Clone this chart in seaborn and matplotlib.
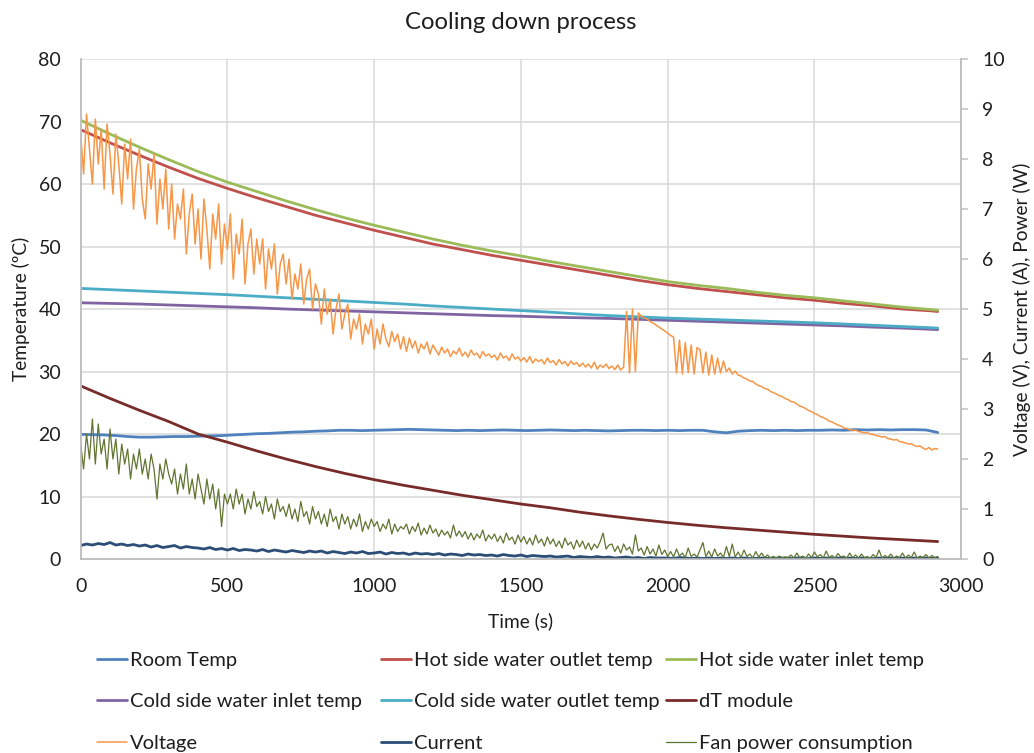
import numpy as np
import matplotlib
matplotlib.use("Agg")
import matplotlib.pyplot as plt
import seaborn as sns

# ---------------------------------------------------------------------------
# Measured data
# ---------------------------------------------------------------------------
# Temperatures logged every 100 s (last sample at 2920 s)
temp_time = [0, 100, 200, 300, 400, 500, 600, 700, 800, 900, 1000, 1100, 1200,
             1300, 1400, 1500, 1600, 1700, 1800, 1900, 2000, 2100, 2200, 2300,
             2400, 2500, 2600, 2700, 2800, 2900, 2920]

hot_outlet = [68.7, 66.6, 64.6, 62.7, 60.9, 59.3, 57.8, 56.4, 55.0, 53.8, 52.6,
              51.5, 50.4, 49.5, 48.6, 47.8, 47.0, 46.2, 45.4, 44.6, 43.9, 43.3,
              42.8, 42.3, 41.8, 41.4, 40.9, 40.5, 40.0, 39.7, 39.6]

hot_inlet = [70.2, 68.0, 65.9, 63.9, 62.0, 60.3, 58.8, 57.3, 55.9, 54.6, 53.4,
             52.3, 51.2, 50.2, 49.3, 48.5, 47.6, 46.8, 46.0, 45.2, 44.4, 43.8,
             43.3, 42.7, 42.2, 41.8, 41.3, 40.8, 40.3, 39.9, 39.8]

cold_inlet = [41.0, 40.9, 40.8, 40.65, 40.5, 40.35, 40.2, 40.0, 39.85, 39.7,
              39.55, 39.4, 39.25, 39.1, 38.95, 38.85, 38.7, 38.6, 38.5, 38.35,
              38.2, 38.05, 37.9, 37.75, 37.6, 37.45, 37.3, 37.1, 36.95, 36.75,
              36.7]

cold_outlet = [43.3, 43.1, 42.9, 42.7, 42.5, 42.3, 42.05, 41.8, 41.55, 41.3,
               41.05, 40.8, 40.5, 40.25, 40.0, 39.75, 39.5, 39.2, 38.95, 38.75,
               38.55, 38.4, 38.25, 38.1, 37.95, 37.8, 37.6, 37.4, 37.2, 37.0,
               36.95]

dt_module = [27.7, 25.7, 23.8, 22.0, 20.0, 18.7, 17.3, 16.0, 14.8, 13.7, 12.7,
             11.8, 11.0, 10.2, 9.5, 8.8, 8.2, 7.5, 6.9, 6.35, 5.85, 5.4, 5.0,
             4.65, 4.3, 3.95, 3.65, 3.35, 3.1, 2.85, 2.8]

# Room temperature, one sample every 40 s
room_step = 40
room_temp = [19.95, 19.9, 19.85, 19.75, 19.6, 19.5, 19.5, 19.55, 19.6, 19.6,
             19.65, 19.7, 19.75, 19.85, 19.95, 20.05, 20.1, 20.2, 20.3, 20.35,
             20.45, 20.5, 20.6, 20.6, 20.55, 20.6, 20.65, 20.7, 20.75, 20.7,
             20.65, 20.6, 20.55, 20.6, 20.55, 20.6, 20.65, 20.6, 20.55, 20.6,
             20.65, 20.6, 20.55, 20.6, 20.55, 20.5, 20.55, 20.6, 20.6, 20.55,
             20.6, 20.55, 20.6, 20.6, 20.35, 20.2, 20.45, 20.55, 20.6, 20.55,
             20.6, 20.55, 20.6, 20.6, 20.65, 20.6, 20.7, 20.65, 20.7, 20.65,
             20.7, 20.7, 20.65, 20.25]

# Module voltage, one sample every 10 s
volt_step = 10
voltage = [
    8.5, 7.7, 8.9, 8.2, 7.5, 8.8, 7.9, 8.6, 7.4, 8.7, 8.1,
    7.3, 8.5, 7.9, 7.1, 8.3, 7.6, 8.4, 7.0, 7.8, 8.2,
    7.2, 6.8, 7.9, 7.4, 8.1, 6.7, 7.6, 7.0, 7.8, 6.6,
    7.5, 6.4, 7.1, 6.8, 7.4, 6.1, 6.9, 7.3, 6.3, 7.0,
    6.0, 7.2, 6.6, 5.8, 6.9, 6.4, 7.1, 5.9, 6.7, 6.2,
    6.9, 5.6, 6.5, 6.1, 6.8, 5.5, 6.3, 6.6, 5.7, 6.4,
    5.9, 6.4, 5.4, 6.2, 5.8, 6.3, 5.3, 5.9, 6.1, 5.5,
    6.0, 5.2, 5.7, 5.4, 5.9, 5.1, 5.6, 5.8, 5.0, 5.5,
    5.3, 4.7, 5.4, 4.9, 5.2, 4.5, 5.0, 5.3, 4.6, 4.9,
    5.1, 4.4, 4.8, 4.6, 4.9, 4.3, 4.7, 4.5, 4.8, 4.2,
    4.6, 4.3, 4.7, 4.4, 4.25, 4.55, 4.35, 4.5, 4.2, 4.45,
    4.15, 4.42, 4.22, 4.36, 4.12, 4.3, 4.2, 4.34, 4.1, 4.28,
    4.18, 4.08, 4.24, 4.12, 4.2, 4.05, 4.16, 4.1, 4.22, 4.06,
    4.14, 4.04, 4.18, 4.08, 4.12, 4.02, 4.15, 4.06, 4.1, 4.03,
    4.08, 3.98, 4.12, 4.02, 4.06, 3.97, 4.1, 4.0, 4.04, 3.96,
    4.03, 3.94, 4.05, 3.92, 4.0, 3.95, 3.99, 3.9, 4.02, 3.93,
    3.97, 3.88, 3.99, 3.9, 3.95, 3.86, 3.96, 3.89, 3.93, 3.85,
    3.92, 3.84, 3.9, 3.82, 3.94, 3.8, 3.88, 3.83, 3.9, 3.81,
    3.86, 3.79, 3.88, 3.78, 3.84,
    4.95, 3.72, 5.0, 3.75, 4.92,
    4.86, 4.82, 4.8, 4.75, 4.72, 4.68, 4.64, 4.6, 4.56, 4.52,
    4.47, 4.44, 3.72, 4.38, 3.7, 4.33, 3.73, 4.28, 3.7, 4.23,
    4.19, 3.72, 4.14, 3.68, 4.08, 3.7, 4.02, 3.72, 3.96, 3.75,
    3.82, 3.7, 3.76, 3.68, 3.66, 3.62, 3.6, 3.56, 3.55, 3.5,
    3.47, 3.45, 3.41, 3.4, 3.35, 3.33, 3.3, 3.27, 3.25, 3.21,
    3.19, 3.15, 3.14, 3.1, 3.06, 3.04, 3.01, 2.97, 2.95, 2.91,
    2.89, 2.85, 2.83, 2.8, 2.76, 2.74, 2.71, 2.68, 2.66, 2.62,
    2.61, 2.59, 2.57, 2.58, 2.55, 2.54, 2.52, 2.53, 2.5, 2.49,
    2.47, 2.46, 2.44, 2.45, 2.41, 2.4, 2.38, 2.39, 2.35, 2.34,
    2.32, 2.3, 2.31, 2.27, 2.25, 2.26, 2.22, 2.19, 2.23, 2.18,
    2.21, 2.2,
]

# Module current, one sample every 20 s
current_step = 20
current = [
    0.27, 0.3, 0.28, 0.31, 0.29, 0.33, 0.28, 0.3, 0.27, 0.29,
    0.26, 0.28, 0.24, 0.27, 0.23, 0.25, 0.27, 0.22, 0.25, 0.23,
    0.22, 0.2, 0.23, 0.19, 0.21, 0.18, 0.21, 0.17, 0.19, 0.18,
    0.16, 0.19, 0.15, 0.18, 0.16, 0.14, 0.17, 0.15, 0.13, 0.16,
    0.14, 0.16, 0.12, 0.15, 0.13, 0.11, 0.14, 0.12, 0.15, 0.11,
    0.12, 0.14, 0.1, 0.13, 0.11, 0.12, 0.09, 0.12, 0.1, 0.11,
    0.09, 0.11, 0.08, 0.1, 0.09, 0.07, 0.1, 0.08, 0.09, 0.07,
    0.08, 0.06, 0.09, 0.07, 0.06, 0.08, 0.05, 0.07, 0.06, 0.05,
    0.06, 0.04, 0.05, 0.06, 0.03, 0.05, 0.04, 0.03, 0.05, 0.03,
    0.04, 0.02, 0.03, 0.04, 0.02, 0.03, 0.01, 0.03, 0.02, 0.02,
    0.02, 0.01, 0.03, 0.02, 0.01, 0.02, 0.01, 0.02, 0.01, 0.02,
    0.01, 0.02, 0.01, 0.02, 0.01, 0.01, 0.02, 0.01, 0.02, 0.01,
    0.02, 0.01, 0.02, 0.01, 0.01, 0.02, 0.01, 0.02, 0.01, 0.02,
    0.01, 0.02, 0.01, 0.02, 0.01, 0.01, 0.02, 0.01, 0.02, 0.01,
    0.02, 0.01, 0.02, 0.01, 0.02, 0.01, 0.02,
]

# Fan electrical power, one sample every 10 s
fan_step = 10
fan_power = [
    2.3, 1.8, 2.5, 2.0, 2.8, 1.9, 2.7, 2.1, 2.4, 1.8, 2.6,
    2.0, 2.4, 1.7, 2.3, 1.9, 2.2, 1.6, 2.1, 1.8, 2.2,
    1.7, 2.0, 1.6, 2.1, 1.8, 1.2, 1.9, 1.6, 2.0, 1.7,
    1.5, 1.8, 1.3, 1.7, 1.4, 1.9, 1.3, 1.6, 1.2, 1.7,
    1.4, 1.1, 1.6, 1.2, 1.5, 1.0, 1.4, 0.65, 1.3, 1.1,
    1.3, 1.0, 1.4, 1.1, 1.3, 0.9, 1.2, 1.0, 1.35, 1.05,
    1.15, 0.9, 1.25, 0.95, 1.1, 0.8, 1.2, 0.95, 1.05, 0.85,
    1.1, 0.8, 1.0, 0.75, 1.15, 0.85, 0.95, 0.7, 1.05, 0.8,
    0.95, 0.7, 0.9, 0.65, 1.0, 0.75, 0.85, 0.6, 0.9, 0.7,
    0.85, 0.6, 0.8, 0.65, 0.9, 0.55, 0.75, 0.6, 0.8, 0.65,
    0.75, 0.55, 0.7, 0.6, 0.8, 0.5, 0.7, 0.55, 0.65, 0.6,
    0.7, 0.5, 0.65, 0.55, 0.72, 0.48, 0.62, 0.5, 0.68, 0.52,
    0.6, 0.45, 0.58, 0.48, 0.55, 0.42, 0.68, 0.46, 0.56, 0.44,
    0.55, 0.4, 0.52, 0.38, 0.5, 0.42, 0.58, 0.36, 0.48, 0.4,
    0.5, 0.35, 0.46, 0.32, 0.52, 0.38, 0.44, 0.3, 0.48, 0.34,
    0.45, 0.3, 0.42, 0.28, 0.48, 0.32, 0.4, 0.26, 0.44, 0.3,
    0.4, 0.25, 0.36, 0.22, 0.42, 0.28, 0.34, 0.2, 0.38, 0.24,
    0.36, 0.2, 0.32, 0.18, 0.3, 0.22, 0.35, 0.52, 0.2, 0.28,
    0.3, 0.15, 0.26, 0.12, 0.3, 0.18, 0.24, 0.1, 0.48, 0.16,
    0.22, 0.08, 0.25, 0.1, 0.2, 0.06, 0.28, 0.09, 0.18, 0.05,
    0.15, 0.04, 0.2, 0.06, 0.12, 0.03, 0.22, 0.05, 0.1, 0.04,
    0.18, 0.33, 0.05, 0.16, 0.04, 0.2, 0.06, 0.12, 0.03, 0.25,
    0.05, 0.3, 0.04, 0.14, 0.03, 0.18, 0.05, 0.1, 0.02, 0.15,
    0.04, 0.12, 0.03, 0.08, 0.02, 0.05, 0.02, 0.06, 0.03, 0.04,
    0.03, 0.08, 0.02, 0.12, 0.03, 0.06, 0.02, 0.1, 0.03, 0.14,
    0.04, 0.09, 0.02, 0.16, 0.03, 0.07, 0.02, 0.11, 0.04, 0.06,
    0.02, 0.12, 0.03, 0.08, 0.02, 0.1, 0.03, 0.05, 0.02, 0.09,
    0.03, 0.18, 0.02, 0.07, 0.03, 0.1, 0.02, 0.06, 0.03, 0.12,
    0.02, 0.08, 0.03, 0.14, 0.02, 0.06, 0.03, 0.09, 0.02, 0.07,
    0.03, 0.05,
]

# ---------------------------------------------------------------------------
# Styling
# ---------------------------------------------------------------------------
sns.set_style("white")
plt.rcParams["font.family"] = ["Lato", "DejaVu Sans"]
TEXT = "#1e1e1e"
GRID = "#d9d9d9"
SPINE = "#bfbfbf"
FS_TICK = 14.0
FS_LABEL = 13.8
FS_LEGEND = 14.5

colors = {
    "Room Temp": "#4f81bd",
    "Hot side water outlet temp": "#c0504d",
    "Hot side water inlet temp": "#9bbb59",
    "Cold side water inlet temp": "#8064a2",
    "Cold side water outlet temp": "#4bacc6",
    "dT module": "#772c2a",
    "Voltage": "#f79646",
    "Current": "#2c4d75",
    "Fan power consumption": "#5f7530",
}

fig = plt.figure(figsize=(10.34, 7.53), dpi=100)
ax = fig.add_axes([0.078, 0.2576, 0.8516, 0.664])
ax2 = ax.twinx()

handles = {}


def draw(axis, x, y, name, lw):
    sns.lineplot(x=x, y=y, ax=axis, color=colors[name], linewidth=lw,
                 errorbar=None, legend=False)
    line = axis.lines[-1]
    line.set_label(name)
    handles[name] = line


# Temperature series (left axis)
room_time = np.arange(len(room_temp)) * room_step
draw(ax, room_time, room_temp, "Room Temp", 2.0)
draw(ax, temp_time, hot_outlet, "Hot side water outlet temp", 2.0)
draw(ax, temp_time, hot_inlet, "Hot side water inlet temp", 2.0)
draw(ax, temp_time, cold_inlet, "Cold side water inlet temp", 2.0)
draw(ax, temp_time, cold_outlet, "Cold side water outlet temp", 2.0)
draw(ax, temp_time, dt_module, "dT module", 2.0)

# Electrical series (right axis)
draw(ax2, np.arange(len(voltage)) * volt_step, voltage, "Voltage", 1.1)
draw(ax2, np.arange(len(current)) * current_step, current, "Current", 2.0)
draw(ax2, np.arange(len(fan_power)) * fan_step, fan_power,
     "Fan power consumption", 0.9)

# Axes, ticks and grid
ax.set_xlim(0, 3000)
ax.set_ylim(0, 80)
ax2.set_ylim(0, 10)
ax.set_xticks(np.arange(0, 3001, 500))
ax.set_yticks(np.arange(0, 81, 10))
ax2.set_yticks(np.arange(0, 11, 1))

ax.grid(True, color=GRID, linewidth=1.1)
ax.set_axisbelow(True)
ax2.grid(False)

for a in (ax, ax2):
    for s in a.spines.values():
        s.set_color(SPINE)
        s.set_linewidth(1.1)
    a.spines["top"].set_visible(False)

ax.tick_params(axis="x", length=0, pad=14, labelsize=FS_TICK, labelcolor=TEXT)
ax.tick_params(axis="y", length=0, pad=14, labelsize=FS_TICK, labelcolor=TEXT)
ax2.tick_params(axis="y", length=5, width=1.1, color=SPINE, direction="out",
                pad=10, labelsize=FS_TICK, labelcolor=TEXT)

ax.set_xlabel("Time (s)", fontsize=FS_LABEL, color=TEXT, labelpad=12)
ax.set_ylabel("Temperature (ºC)", fontsize=FS_LABEL, color=TEXT, labelpad=6)
ax2.set_ylabel("Voltage (V), Current (A), Power (W)", fontsize=FS_LABEL,
               color=TEXT, labelpad=6)

fig.suptitle("Cooling down process", x=0.5034, y=0.984, fontsize=17.2,
             color=TEXT)

# Legend: three columns, filled row by row
columns = [
    ["Room Temp", "Cold side water inlet temp", "Voltage"],
    ["Hot side water outlet temp", "Cold side water outlet temp", "Current"],
    ["Hot side water inlet temp", "dT module", "Fan power consumption"],
]
col_x = [97, 381, 666]
for xpx, names in zip(col_x, columns):
    fig.legend([handles[n] for n in names], names,
               loc="upper left",
               bbox_to_anchor=(xpx / 1034, 1 - 652 / 753),
               frameon=False, fontsize=FS_LEGEND, borderpad=0,
               borderaxespad=0, handlelength=1.5, handletextpad=0.15,
               labelspacing=1.2, labelcolor=TEXT)

fig.savefig("out.png", dpi=100)
